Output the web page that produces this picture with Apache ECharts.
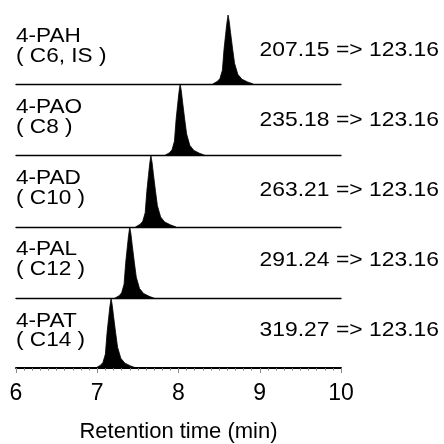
<!DOCTYPE html>
<html>
<head>
<meta charset="utf-8">
<script src="https://cdn.jsdelivr.net/npm/echarts@6/dist/echarts.min.js"></script>
<style>
html, body { margin: 0; padding: 0; background: #fff; }
#main { width: 444px; height: 444px; }
</style>
</head>
<body>
<div id="main"></div>
<script>
// compound names, second label line and MRM transitions (top to bottom)
var names = ['4-PAH', '4-PAO', '4-PAD', '4-PAL', '4-PAT'];
var subNames = ['( C6, IS )', '( C8 )', '( C10 )', '( C12 )', '( C14 )'];
var transitions = ['207.15 => 123.16', '235.18 => 123.16', '263.21 => 123.16', '291.24 => 123.16', '319.27 => 123.16'];
var xTicks = [6, 7, 8, 9, 10];

// chromatogram peaks, [retention time, relative intensity]
var peakPAH = [[8.42,0],[8.48,4],[8.51,8],[8.54,20],[8.56,50],[8.58,72],[8.595,88],[8.61,100],[8.625,90],[8.64,75],[8.667,50],[8.69,30],[8.73,14],[8.78,7],[8.85,3],[8.92,0]];
var peakPAO = [[7.83,0],[7.89,4],[7.92,8],[7.95,20],[7.97,50],[7.99,72],[8.005,88],[8.02,100],[8.035,90],[8.05,75],[8.077,50],[8.10,30],[8.14,14],[8.19,7],[8.26,3],[8.33,0]];
var peakPAD = [[7.47,0],[7.53,4],[7.56,8],[7.59,20],[7.61,50],[7.63,72],[7.645,88],[7.66,100],[7.675,90],[7.69,75],[7.717,50],[7.74,30],[7.78,14],[7.83,7],[7.90,3],[7.97,0]];
var peakPAL = [[7.21,0],[7.27,4],[7.30,8],[7.33,20],[7.35,50],[7.37,72],[7.385,88],[7.40,100],[7.415,90],[7.43,75],[7.457,50],[7.48,30],[7.52,14],[7.57,7],[7.64,3],[7.71,0]];
var peakPAT = [[6.98,0],[7.04,4],[7.07,8],[7.10,20],[7.12,50],[7.14,72],[7.155,88],[7.17,100],[7.185,90],[7.20,75],[7.227,50],[7.25,30],[7.29,14],[7.34,7],[7.41,3],[7.48,0]];
var peaks = [peakPAH, peakPAO, peakPAD, peakPAL, peakPAT];

var myChart = echarts.init(document.getElementById('main'));
var font = 'Liberation Sans, Arial, sans-serif';

var tops = [15, 84, 155.5, 227, 298.5];
var bottoms = [84, 155.5, 227, 298.5, 370];

var grids = [], xAxes = [], yAxes = [], series = [], graphics = [];
for (var i = 0; i < 5; i++) {
    var last = i === 4;
    grids.push({ left: 16, right: 103, top: tops[i], height: bottoms[i] - tops[i] });
    xAxes.push({
        gridIndex: i, type: 'value', min: xTicks[0], max: xTicks[xTicks.length - 1], interval: 1,
        axisLine: { show: true, onZero: false, lineStyle: { color: '#000', width: last ? 2 : 1.3 } },
        axisTick: { show: last, length: 5, lineStyle: { color: '#888', width: 1 } },
        minorTick: { show: last, splitNumber: 10, length: 2.5, lineStyle: { color: '#777', width: 1 } },
        axisLabel: { show: last, color: '#000', fontSize: 23, fontFamily: font, margin: 14 },
        splitLine: { show: false },
        name: last ? 'Retention time (min)' : '',
        nameLocation: 'middle', nameGap: 53,
        nameTextStyle: { color: '#000', fontSize: 22, fontFamily: font }
    });
    yAxes.push({ gridIndex: i, type: 'value', min: 0, max: 100, show: false });
    series.push({
        type: 'line', xAxisIndex: i, yAxisIndex: i, data: peaks[i],
        showSymbol: false, symbol: 'none',
        lineStyle: { color: '#000', width: 0.8 },
        areaStyle: { color: '#000', opacity: 1 }
    });
    // labels are a bit wide in the original, so stretch them horizontally
    graphics.push({
        type: 'text', x: 16, y: 26.3 + 71.2 * i, scaleX: 1.13,
        style: { text: names[i], fill: '#000', font: '20px ' + font, align: 'left', verticalAlign: 'top' }
    });
    graphics.push({
        type: 'text', x: 16, y: 46.3 + 71 * i, scaleX: 1.13,
        style: { text: subNames[i], fill: '#000', font: '20px ' + font, align: 'left', verticalAlign: 'top' }
    });
    graphics.push({
        type: 'text', x: 439, y: 39.7 + 70 * i, scaleX: 1.09,
        style: { text: transitions[i], fill: '#000', font: '21px ' + font, align: 'right', verticalAlign: 'top' }
    });
}

myChart.setOption({
    animation: false,
    grid: grids,
    xAxis: xAxes,
    yAxis: yAxes,
    series: series,
    graphic: graphics
});
</script>
</body>
</html>
